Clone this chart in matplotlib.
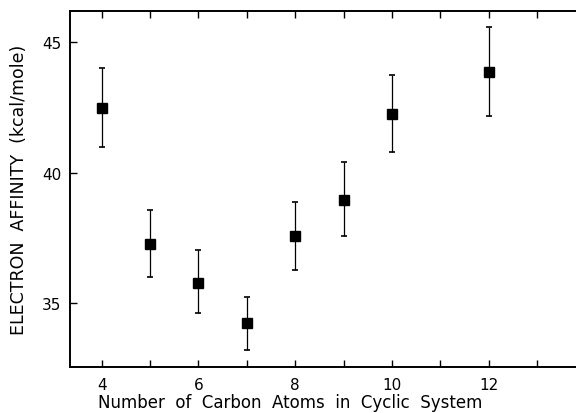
import matplotlib
matplotlib.use("Agg")
import matplotlib.pyplot as plt

# carbon atoms in ring vs electron affinity (kcal/mole)
n_carbon = [4, 5, 6, 7, 8, 9, 10, 12]
affinity = [42.48, 37.26, 35.78, 34.22, 37.55, 38.96, 42.25, 43.87]
err_up = [1.53, 1.29, 1.26, 1.02, 1.33, 1.44, 1.51, 1.70]
err_dn = [1.51, 1.26, 1.17, 1.02, 1.28, 1.38, 1.47, 1.69]
y_ticks = [35, 40, 45]
x_ticks = [4, 6, 8, 10, 12]

plt.rcParams["font.family"] = ["DejaVu Sans"]

fig = plt.figure(figsize=(5.76, 4.14), dpi=100)
ax = fig.add_axes([70 / 576, 1 - 368 / 414, 1 - 70 / 576, (368 - 12) / 414])

ax.errorbar(n_carbon, affinity, yerr=[err_dn, err_up], fmt="s", color="black",
            ms=7, elinewidth=0.9, capsize=2.5, capthick=1.2)

ax.set_xlim(3.345, 13.8)
ax.set_ylim(32.54, 46.2)
ax.set_xticks(range(4, 14))
ax.set_xticklabels([str(v) if v in x_ticks else "" for v in range(4, 14)])
ax.set_yticks(y_ticks)
ax.tick_params(axis="x", direction="in", top=True, length=5, width=1, labelsize=11, pad=7)
ax.tick_params(axis="y", direction="in", length=5, width=1, labelsize=11, pad=6)
ax.spines["right"].set_visible(False)
for s in ["left", "bottom", "top"]:
    ax.spines[s].set_linewidth(1.4)

ax.set_xlabel("Number  of  Carbon  Atoms  in  Cyclic  System", fontsize=12, labelpad=1)
ax.xaxis.label.set_x(0.435)
ax.set_ylabel("ELECTRON  AFFINITY  (kcal/mole)", fontsize=12.5, labelpad=10)

fig.savefig("out.png", dpi=100)
